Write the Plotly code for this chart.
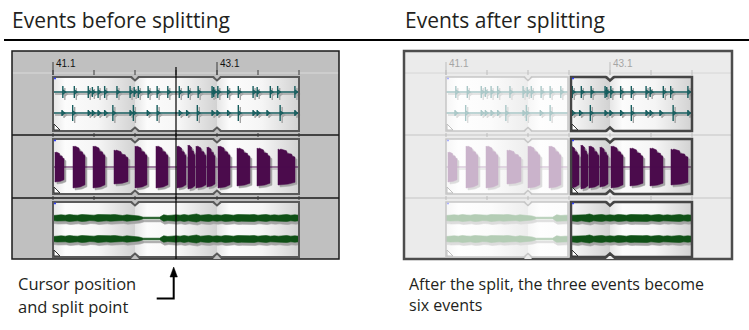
import plotly.graph_objects as go

W, H = 749, 330

# ---------------- data ----------------
RULER_TICKS = [41.1, 41.6, 42.1, 42.6, 43.1, 43.6, 44.1]
RULER_LABEL_TIMES = [41.1, 43.1]
RULER_LABELS = ["41.1", "43.1"]
LOOP_MARKERS = [42.1, 43.1]
SEGMENT_BOUNDS = [41.1, 42.1, 43.1, 44.1]
EVENT_START, EVENT_END = 41.1, 44.1
CURSOR_TIME = 42.6

# track 1: drum hits, two channels (time, peak height in px)
DRUM_L_TIMES = [41.22, 41.36, 41.53, 41.58, 41.65, 41.73, 41.88, 42.04, 42.09, 42.14,
                42.26, 42.37, 42.50, 42.64, 42.75, 42.87, 43.04, 43.06, 43.11, 43.23,
                43.36, 43.54, 43.59, 43.75, 43.84, 44.05]
DRUM_L_AMPS = [6, 6, 6, 5, 6, 6, 6, 6, 5, 6, 6, 6, 6, 6, 6, 6, 6, 5, 6, 6, 6, 6, 5, 6, 6, 6]
DRUM_R_TIMES = [41.21, 41.34, 41.53, 41.58, 41.65, 41.73, 41.83, 42.04, 42.08, 42.25, 42.37,
                42.64, 42.73, 42.86, 43.04, 43.10, 43.23, 43.36, 43.54, 43.59, 43.71, 43.87, 44.05]
DRUM_R_AMPS = [3, 8, 3, 3, 3, 3, 8, 3, 8, 3, 8, 3, 3, 8, 3, 3, 3, 8, 3, 3, 3, 8, 3]

# track 2: synth bursts (start, end, peak height in px)
SYNTH_STARTS = [41.124, 41.344, 41.588, 41.844, 42.100, 42.356, 42.612, 42.746, 42.844,
                42.978, 43.112, 43.344, 43.588, 43.844]
SYNTH_ENDS = [41.234, 41.490, 41.734, 42.015, 42.246, 42.502, 42.722, 42.832, 42.966,
              43.076, 43.259, 43.502, 43.746, 44.051]
SYNTH_AMPS = [15, 21, 21, 17, 21, 21, 21, 22, 21, 20, 21, 19, 19, 18]

# track 3: pad band half-thickness (px), sampled every PAD_STEP seconds from PAD_T0
PAD_T0, PAD_STEP = 41.1, 0.05
PAD_ENV = [2.5, 3.0, 3.2, 2.8, 3.5, 3.0, 2.8, 3.5, 3.2, 2.5, 2.8, 3.5, 3.2, 2.8, 3.2, 3.5,
           2.8, 2.5, 3.2, 2.8, 2.5, 2.0,
           0.8, 0.8, 1.0, 0.8, 0.8,
           3.2, 2.5, 2.8, 3.2, 2.8, 3.5, 2.8, 3.2, 4.0, 2.8, 3.2, 3.5, 2.8, 3.2, 2.8, 3.5,
           3.2, 2.8, 3.5, 3.2, 2.8, 3.2, 3.5, 2.8, 3.2, 3.5, 2.8, 3.2, 2.8, 3.2, 3.5, 2.8,
           3.2, 2.8]

TITLES = ["Events before splitting", "Events after splitting"]
CAPTION_LEFT = ["Cursor position", "and split point"]
CAPTION_RIGHT = ["After the split, the three events become", "six events"]

# ---------------- layout constants (pixels) ----------------
SCALE = 82.0               # px per second
DX = 1 / SCALE
ORIGIN = {"x": 53, "x2": 446}
BOX = {"x": (12, 339), "x2": (404, 732)}
BOX_TOP, BOX_BOTTOM = 51, 259
TRACKS = [(77, 131), (139, 194), (202, 257)]
SEPARATORS = [135, 198]
RULER_Y = 73
DRUM_CENTERS = [92, 113]
SYNTH_CENTER = 167
PAD_CENTERS = [218, 239]
SPLIT_BEFORE_PX, SPLIT_AFTER_PX = 1, 2

STYLE = {
    "full": dict(drum="#165d5e", synth="#4b0b4c", pad="#0f5016", shadow="#a4a4a4",
                 border="#5a5a5a", bw=2,
                 bg=[[0, "#e6e6e6"], [0.15, "#fcfcfc"], [0.55, "#f5f5f5"], [1, "#d2d2d2"]],
                 handle="#333333", blue="#3040ff"),
    "sel": dict(drum="#165d5e", synth="#4b0b4c", pad="#0f5016", shadow="#a4a4a4",
                border="#454545", bw=2.5,
                bg=[[0, "#e6e6e6"], [0.15, "#fcfcfc"], [0.55, "#f5f5f5"], [1, "#d2d2d2"]],
                handle="#333333", blue="#3040ff"),
    "faded": dict(drum="#a9c7c7", synth="#cab3cb", pad="#b4cdb5", shadow="#dcdcdc",
                  border="#c6c6c6", bw=1.5,
                  bg=[[0, "#f6f6f6"], [0.15, "#fefefe"], [0.55, "#fbfbfb"], [1, "#ededed"]],
                  handle="#c0c0c0", blue="#aab0ff"),
}
PANEL = {
    "x": dict(bg="#c0c0c0", frame="#1a1a1a", fw=1.5, sep="#1a1a1a", ruler="#dadada",
              tick="#3a3a3a", label="#111111"),
    "x2": dict(bg="#ebebeb", frame="#4d4d4d", fw=2.5, sep="#d2d2d2", ruler="#d6d6d6",
               tick="#bdbdbd", label="#a5a5a5"),
}
FONT = "Open Sans, Noto Sans, sans-serif"
RULER_FONT = "Liberation Sans Narrow, Arial Narrow, Liberation Sans, Arial"

shapes, annots, traces = [], [], []


def T(px, ax):
    return EVENT_START + (px - ORIGIN[ax]) / SCALE


def add_line(ax, x0, y0, x1, y1, color, width, layer="above"):
    shapes.append(dict(type="line", xref=ax, yref="y", x0=x0, y0=y0, x1=x1, y1=y1,
                       line=dict(color=color, width=width), layer=layer))


def add_path(ax, pts, fill=None, lc=None, lw=0, closed=True, layer="above"):
    d = "M " + " L ".join(f"{x},{y}" for x, y in pts) + (" Z" if closed else "")
    s = dict(type="path", xref=ax, yref="y", path=d, layer=layer,
             line=dict(color=lc or "rgba(0,0,0,0)", width=lw))
    if fill:
        s["fillcolor"] = fill
    shapes.append(s)


def scatter(ax, xs, ys, color, width=1.0, fill=None, fillcolor=None):
    kw = dict(x=xs, y=ys, xaxis=ax, yaxis="y", mode="lines", hoverinfo="skip",
              showlegend=False, line=dict(color=color, width=width))
    if fill:
        kw["fill"] = fill
        kw["fillcolor"] = fillcolor or color
    traces.append(go.Scatter(**kw))


def event_bg(ax, a, b, top, bot, st):
    for s0, s1 in zip(SEGMENT_BOUNDS[:-1], SEGMENT_BOUNDS[1:]):
        lo, hi = max(a, s0), min(b, s1)
        if hi <= lo:
            continue
        traces.append(go.Scatter(
            x=[lo, hi, hi, lo, lo], y=[top, top, bot, bot, top], xaxis=ax, yaxis="y",
            mode="lines", line=dict(width=0), fill="toself", hoverinfo="skip",
            showlegend=False,
            fillgradient=dict(type="horizontal", colorscale=st["bg"], start=s0, stop=s1)))


def drums(ax, a, b, st):
    for c, times, amps in ((DRUM_CENTERS[0], DRUM_L_TIMES, DRUM_L_AMPS),
                           (DRUM_CENTERS[1], DRUM_R_TIMES, DRUM_R_AMPS)):
        for ox, oy, col in ((2 * DX, 2, st["shadow"]), (0, 0, st["drum"])):
            xs = [a + ox, min(b, b + ox), None]
            ys = [c + oy, c + oy, None]
            for t, amp in zip(times, amps):
                if not (a <= t <= b):
                    continue
                xs += [t + ox, t + ox, None, t + ox, t + ox + 2.5 * DX, t + ox, None]
                ys += [c - amp + oy, c + amp + oy, None, c - 2 + oy, c + oy, c + 2 + oy, None]
            scatter(ax, xs, ys, col, 1.4)


BURST_TOP = [(0, 1.0), (0.1, 0.95), (0.15, 1.0), (0.5, 0.9), (0.55, 0.75),
             (0.8, 0.72), (0.85, 0.6), (1.0, 0.55)]
BURST_BOT = [(1.0, -0.85), (0.6, -0.95), (0.0, -1.0)]


def synth(ax, a, b, st):
    c = SYNTH_CENTER
    n = len(BURST_TOP) + len(BURST_BOT)
    for ox, oy, col in ((2 * DX, 2, st["shadow"]), (0, 0, st["synth"])):
        xs, ys = [], []
        for s, e, amp in zip(SYNTH_STARTS, SYNTH_ENDS, SYNTH_AMPS):
            if e <= a or s >= b:
                continue
            for f, g in BURST_TOP + BURST_BOT:
                xs.append(min(b, max(a, s + f * (e - s))) + ox)
                ys.append(c - g * amp + oy)
            xs.append(xs[-n])
            ys.append(ys[-n])
            xs.append(None)
            ys.append(None)
        scatter(ax, xs, ys, col, 0.5, fill="toself", fillcolor=col)
        scatter(ax, [a + ox, min(b, b + ox)], [c + oy, c + oy], col, 1.2)


def pad(ax, a, b, st):
    samples = [(PAD_T0 + i * PAD_STEP, v) for i, v in enumerate(PAD_ENV)]
    inside = [(t, v) for t, v in samples if a <= t <= b]
    if not inside:
        return
    pts = [(a, inside[0][1])] + inside + [(b, inside[-1][1])]
    for c in PAD_CENTERS:
        for ox, oy, col in ((DX, 3, st["shadow"]), (0, 0, st["pad"])):
            xs = [t + ox for t, v in pts] + [t + ox for t, v in reversed(pts)]
            ys = [c - v + oy for t, v in pts] + [c + v + oy for t, v in reversed(pts)]
            xs.append(xs[0])
            ys.append(ys[0])
            xs = [min(b, x) for x in xs]
            scatter(ax, xs, ys, col, 0.6, fill="toself", fillcolor=col)


def event(ax, a, b, style):
    st = STYLE[style]
    pb = PANEL[ax]["bg"]
    for k, (top, bot) in enumerate(TRACKS):
        event_bg(ax, a, b, top, bot, st)
        if k == 0:
            drums(ax, a, b, st)
        elif k == 1:
            synth(ax, a, b, st)
        else:
            pad(ax, a, b, st)
        shapes.append(dict(type="rect", xref=ax, yref="y", x0=a, x1=b, y0=top, y1=bot,
                           line=dict(color=st["border"], width=st["bw"]), layer="above"))
        for m in LOOP_MARKERS:
            if a < m < b:
                add_path(ax, [(m - 4 * DX, top - 2), (m + 4 * DX, top - 2), (m, top + 3)], fill=pb)
                add_path(ax, [(m - 4 * DX, top), (m, top + 3.5), (m + 4 * DX, top)],
                         lc=st["border"], lw=st["bw"], closed=False)
                add_path(ax, [(m - 4 * DX, bot + 2), (m + 4 * DX, bot + 2), (m, bot - 3)], fill=pb)
                add_path(ax, [(m - 4 * DX, bot), (m, bot - 3.5), (m + 4 * DX, bot)],
                         lc=st["border"], lw=st["bw"], closed=False)
        add_path(ax, [(a + DX, bot - 7), (a + DX, bot - 1), (a + 7 * DX, bot - 1)],
                 fill="white", lc=st["handle"], lw=1)
        add_line(ax, a + DX, top + 1.5, a + 3 * DX, top + 1.5, st["blue"], 1.5)


def panel(ax):
    p = PANEL[ax]
    x0, x1 = T(BOX[ax][0], ax), T(BOX[ax][1], ax)
    shapes.append(dict(type="rect", xref=ax, yref="y", x0=x0, x1=x1, y0=BOX_TOP, y1=BOX_BOTTOM,
                       fillcolor=p["bg"], line=dict(width=0), layer="below"))
    add_line(ax, x0, RULER_Y, x1, RULER_Y, p["ruler"], 1, "below")
    for y in SEPARATORS:
        add_line(ax, x0, y, x1, y, p["sep"], 1.3, "below")
    for t in RULER_TICKS:
        add_line(ax, t, RULER_Y - 3, t, RULER_Y + 2, p["tick"], 1, "below")
        for y in SEPARATORS:
            add_line(ax, t, y - 2, t, y + 2, p["tick"], 1, "below")
    for t, lab in zip(RULER_LABEL_TIMES, RULER_LABELS):
        add_line(ax, t, RULER_Y - 11, t, RULER_Y + 2, p["tick"], 1, "below")
        annots.append(dict(x=t + DX, y=RULER_Y - 10, xref=ax, yref="y", text=lab,
                           showarrow=False, xanchor="left", yanchor="middle",
                           font=dict(family=RULER_FONT, size=10, color=p["label"])))
    shapes.append(dict(type="rect", xref=ax, yref="y", x0=x0, x1=x1, y0=BOX_TOP, y1=BOX_BOTTOM,
                       line=dict(color=p["frame"], width=p["fw"]), layer="above"))


# ---------------- left panel: before splitting ----------------
panel("x")
event("x", EVENT_START, EVENT_END, "full")
add_line("x", CURSOR_TIME, 67, CURSOR_TIME, BOX_BOTTOM, "#000000", 1.2)

# ---------------- right panel: after splitting ----------------
panel("x2")
event("x2", EVENT_START, CURSOR_TIME - SPLIT_BEFORE_PX * DX, "faded")
event("x2", CURSOR_TIME + SPLIT_AFTER_PX * DX, EVENT_END, "sel")

# ---------------- titles, rule, captions, arrow ----------------
for txt, px in zip(TITLES, (10, 403)):
    annots.append(dict(x=px / W, y=20, xref="paper", yref="y", text=txt, showarrow=False,
                       xanchor="left", yanchor="middle",
                       font=dict(family=FONT, size=21, color="#231f20")))
shapes.append(dict(type="line", xref="paper", yref="y", x0=4 / W, x1=1, y0=40, y1=40,
                   line=dict(color="#000000", width=2), layer="above"))
for txt, y in zip(CAPTION_LEFT, (283, 306)):
    annots.append(dict(x=16 / W, y=y, xref="paper", yref="y", text=txt, showarrow=False,
                       xanchor="left", yanchor="middle",
                       font=dict(family=FONT, size=16.5, color="#231f20")))
annots.append(dict(x=407 / W, y=294, xref="paper", yref="y", text="<br>".join(CAPTION_RIGHT),
                   showarrow=False, xanchor="left", yanchor="middle", align="left",
                   font=dict(family=FONT, size=16, color="#231f20")))

ax_x = CURSOR_TIME - 2.3 * DX
add_path("x", [(ax_x - 17 * DX, 298.5), (ax_x, 298.5), (ax_x, 275)], lc="#000000", lw=2, closed=False)
add_path("x", [(ax_x - 3.7 * DX, 277), (ax_x, 267), (ax_x + 3.7 * DX, 277)], fill="#000000",
         lc="#000000", lw=0.5)

fig = go.Figure(traces)
split_px = W / 2
fig.update_layout(
    width=W, height=H, margin=dict(l=0, r=0, t=0, b=0), autosize=False,
    paper_bgcolor="white", plot_bgcolor="rgba(0,0,0,0)", showlegend=False,
    xaxis=dict(domain=[0, 0.5], visible=False, fixedrange=True,
               range=[T(0, "x"), T(split_px, "x")]),
    xaxis2=dict(domain=[0.5, 1], visible=False, fixedrange=True, anchor="y",
                range=[T(split_px, "x2"), T(W, "x2")]),
    yaxis=dict(domain=[0, 1], range=[H, 0], visible=False, fixedrange=True),
    shapes=shapes, annotations=annots,
)
fig.write_html("out.html", config={"displayModeBar": False},
               post_script="document.body.style.margin='0px';")
